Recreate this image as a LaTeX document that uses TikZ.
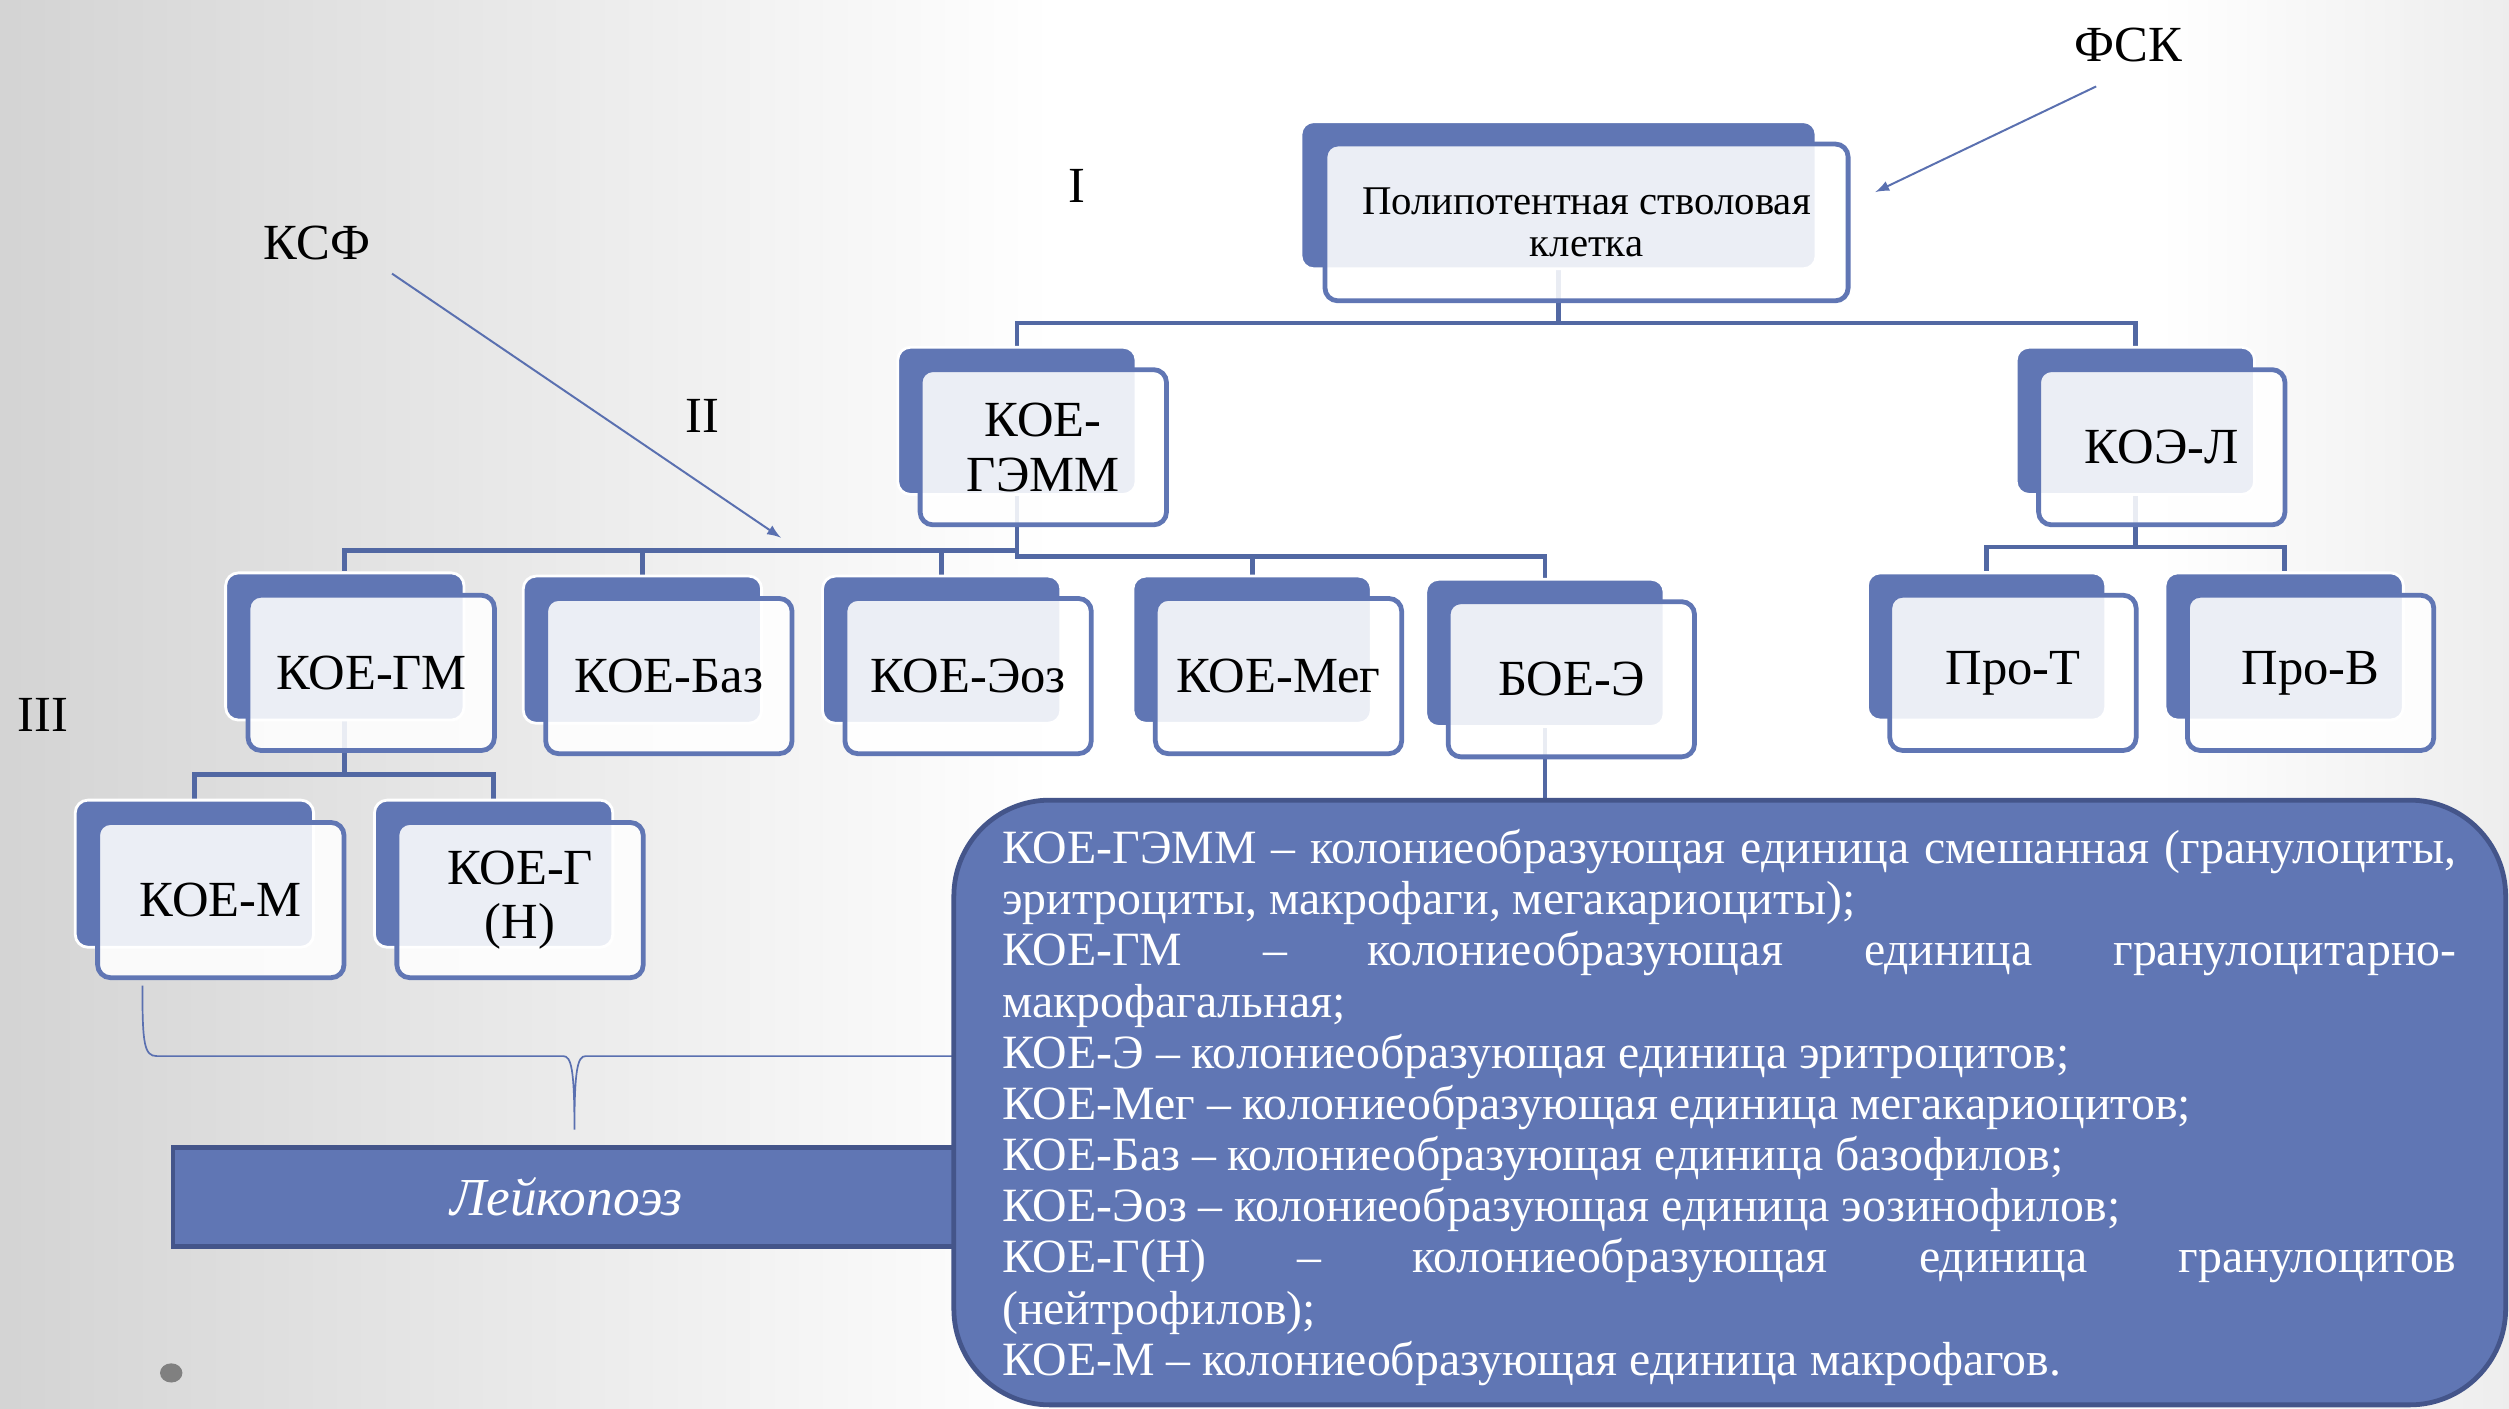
\documentclass[tikz,border=0pt]{standalone}
\usepackage{fontspec}
\setmainfont{Liberation Serif}
\usepackage{tikz}
\definecolor{boxblue}{HTML}{6076B4}
\definecolor{linkblue}{HTML}{5268A3}
\definecolor{edgeblue}{HTML}{44558A}
\definecolor{arrowblue}{HTML}{5A70B0}
\pgfdeclarehorizontalshading{bgfade}{100bp}{color(0bp)=(black!17); color(25bp)=(black!17); color(46bp)=(white); color(68bp)=(white); color(75bp)=(black!7); color(100bp)=(black!7)}
\pgfdeclarelayer{bg}
\pgfdeclarelayer{links}
\pgfsetlayers{bg,links,main}

\begin{document}
\begin{tikzpicture}[x=0.02cm, y=-0.02cm,
    cellback/.style={rectangle, rounded corners=0.16cm, fill=boxblue, draw=white, line width=1pt, minimum width=2.98cm, minimum height=1.84cm},
    cellfront/.style={rectangle, rounded corners=0.16cm, fill=white, fill opacity=0.88, text opacity=1, draw=boxblue, line width=1.7pt, minimum width=3.08cm, minimum height=1.94cm, inner sep=1pt, align=center, font=\fontsize{18}{19.5}\selectfont},
    link/.style={draw=linkblue, line width=1.7pt},
    pointer/.style={-latex, draw=arrowblue, fill=arrowblue, line width=0.7pt},
    lvl/.style={font=\fontsize{18}{20}\selectfont},
    leukobox/.style={rectangle, fill=boxblue, draw=edgeblue, line width=1.7pt, minimum width=9.84cm, minimum height=1.24cm, text=white, font=\itshape\fontsize{19}{21}\selectfont},
    legbox/.style={rectangle, rounded corners=1.2cm, fill=boxblue, draw=edgeblue, line width=1.7pt, minimum width=19.4cm, minimum height=7.56cm},
    legtext/.style={anchor=north west, inner sep=0pt, text width=18.18cm, align=justify, text=white, font=\fontsize{17}{18.2}\selectfont}]
    \useasboundingbox (0,0) rectangle (1568,880);
    \begin{pgfonlayer}{bg}
      \shade[shading=bgfade] (0,0) rectangle (1568,880);
    \end{pgfonlayer}

    \node[cellback, minimum width=6.44cm] (pb) at (974,122) {};
    \node[cellfront, minimum width=6.54cm, minimum height=1.96cm, font=\fontsize{14.5}{14.8}\selectfont] (p) at (991.5,139) {Полипотентная стволовая\\клетка};
    \node[cellback] (gemmb) at (635.5,263) {};
    \node[cellfront] (gemm) at (652,279.5) {КОЕ-\\ГЭММ};
    \node[cellback] (koelb) at (1334.5,263) {};
    \node[cellfront] (koel) at (1351,279.5) {КОЭ-Л};
    \node[cellback] (gmb) at (215.5,404) {};
    \node[cellfront] (gm) at (232,420.5) {КОЕ-ГМ};
    \node[cellback] (bazb) at (401.5,406) {};
    \node[cellfront] (baz) at (418,422.5) {КОЕ-Баз};
    \node[cellback] (eozb) at (588.5,406) {};
    \node[cellfront] (eoz) at (605,422.5) {КОЕ-Эоз};
    \node[cellback] (megb) at (782.5,406) {};
    \node[cellfront] (meg) at (799,422.5) {КОЕ-Мег};
    \node[cellback] (boeb) at (965.5,408) {};
    \node[cellfront] (boe) at (982,424.5) {БОЕ-Э};
    \node[cellback] (protb) at (1241.5,404) {};
    \node[cellfront] (prot) at (1258,420.5) {Про-Т};
    \node[cellback] (probb) at (1427.5,404) {};
    \node[cellfront] (prob) at (1444,420.5) {Про-В};
    \node[cellback] (komb) at (121.5,546) {};
    \node[cellfront] (kom) at (138,562.5) {КОЕ-М};
    \node[cellback] (kogb) at (308.5,546) {};
    \node[cellfront] (kog) at (325,562.5) {КОЕ-Г\\(Н)};

    \begin{pgfonlayer}{links}
      \draw[link] (pb.south) -- ++(0,33) -| (gemmb.north);
      \draw[link] (pb.south) -- ++(0,33) -| (koelb.north);
      \draw[link] (gemmb.south) -- ++(0,34) -| (gmb.north);
      \draw[link] (gemmb.south) -- ++(0,34) -| (bazb.north);
      \draw[link] (gemmb.south) -- ++(0,34) -| (eozb.north);
      \draw[link] (gemmb.south) -- ++(0,38) -| (megb.north);
      \draw[link] (gemmb.south) -- ++(0,38) -| (boeb.north);
      \draw[link] (boeb.south) -- ++(0,60);
      \draw[link] (gmb.south) -- ++(0,33) -| (komb.north);
      \draw[link] (gmb.south) -- ++(0,33) -| (kogb.north);
      \draw[link] (koelb.south) -- ++(0,32) -| (protb.north);
      \draw[link] (koelb.south) -- ++(0,32) -| (probb.north);
    \end{pgfonlayer}

    \node[lvl] (fsk) at (1330,28) {ФСК};
    \node[lvl] (ksf) at (198,152) {КСФ};
    \node[lvl] (one) at (673,116) {I};
    \node[lvl] (two) at (439,260) {II};
    \node[lvl] (three) at (27,447) {III};
    \coordinate (fskfrom) at (1310,54);
    \coordinate (fskto) at (1172,120);
    \coordinate (ksffrom) at (245,171);
    \coordinate (ksfto) at (488,336);
    \draw[pointer] (fskfrom) -- (fskto);
    \draw[pointer] (ksffrom) -- (ksfto);

    \draw[arrowblue, line width=0.6pt] (89,616) .. controls (89,652) and (90,660) .. (98,660) -- (352,660) .. controls (357,660) and (359,668) .. (359,706) .. controls (359,668) and (361,660) .. (366,660) -- (600,660);
    \node[leukobox] (leuko) at (354,748) {Лейкопоэз};

    \node[legbox] (leg) at (1081,689) {};
    \node[legtext] (legt) at (626,518) {\parindent=0pt
      КОЕ-ГЭММ – колониеобразующая единица смешанная (гранулоциты,\linebreak эритроциты, макрофаги, мегакариоциты);\par
      КОЕ-ГМ – колониеобразующая единица гранулоцитарно-\linebreak макрофагальная;\par
      КОЕ-Э – колониеобразующая единица эритроцитов;\par
      КОЕ-Мег – колониеобразующая единица мегакариоцитов;\par
      КОЕ-Баз – колониеобразующая единица базофилов;\par
      КОЕ-Эоз – колониеобразующая единица эозинофилов;\par
      КОЕ-Г(Н) – колониеобразующая единица гранулоцитов\linebreak (нейтрофилов);\par
      КОЕ-М – колониеобразующая единица макрофагов.};

    \fill[black!50] (107,858) ellipse (0.14cm and 0.12cm);
  \end{tikzpicture}
\end{document}
